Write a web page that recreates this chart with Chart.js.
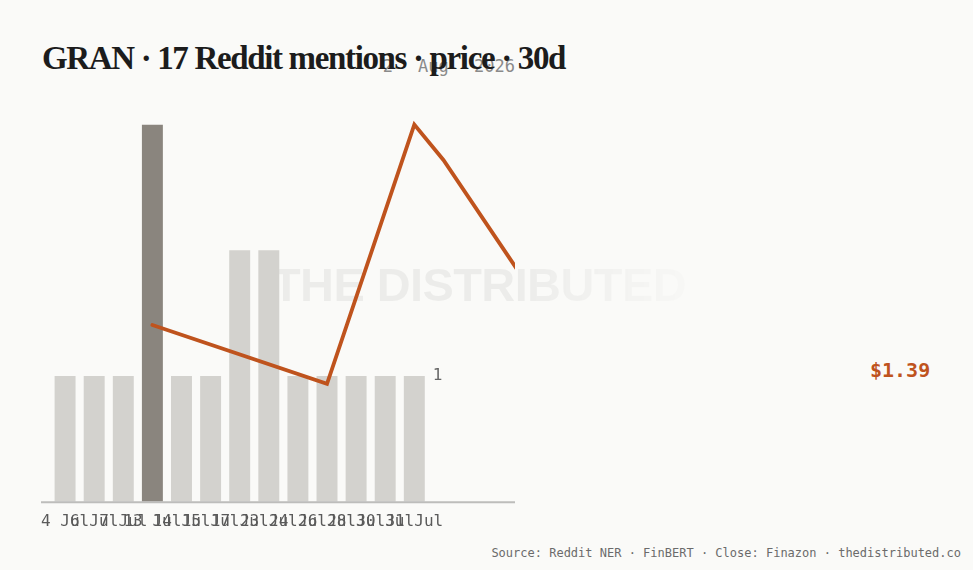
<!DOCTYPE html>
<html>
<head>
<meta charset="utf-8">
<script src="https://cdn.jsdelivr.net/npm/chart.js@4.4.1/dist/chart.umd.min.js"></script>
<style>
  html, body { margin: 0; padding: 0; background: #fafaf8; }
  body { width: 973px; height: 570px; position: relative; overflow: hidden; }
  #title {
    position: absolute; left: 42px; top: 42px; z-index: 3;
    font: bold 33px/33px "Liberation Serif", serif; letter-spacing: -1.35px;
    color: #1c1c1c; white-space: nowrap;
  }
  #date {
    position: absolute; right: 458px; top: 56px; z-index: 2;
    font: 17px/20px "DejaVu Sans Mono", monospace; word-spacing: 15px;
    color: #8a8a8a; white-space: nowrap;
  }
  #mark {
    position: absolute; left: 272px; top: 261px; z-index: 0;
    font: bold 47px/47px "Liberation Sans", sans-serif; letter-spacing: -0.6px;
    color: rgba(0, 0, 0, 0.055); white-space: nowrap;
    -webkit-mask-image: linear-gradient(to right, #000 58%, rgba(0,0,0,0.2) 100%);
    mask-image: linear-gradient(to right, #000 58%, rgba(0,0,0,0.2) 100%);
  }
  #wrap { position: absolute; left: 41px; top: 111px; width: 474px; height: 420px; z-index: 1; }
  #last {
    position: absolute; left: 870px; top: 360px;
    font: bold 20px/20px "DejaVu Sans Mono", monospace; color: #bf531d;
  }
  #foot {
    position: absolute; right: 12px; top: 546px;
    font: 12px/14px "DejaVu Sans Mono", monospace; color: #6b6b6b; white-space: nowrap;
  }
</style>
</head>
<body>
<div id="title">GRAN · 17 Reddit mentions · price · 30d</div>
<div id="date">2 Aug 2026</div>
<div id="mark">THE DISTRIBUTED</div>
<div id="wrap"><canvas id="chart"></canvas></div>
<div id="last"></div>
<div id="foot">Source: Reddit NER · FinBERT · Close: Finazon · thedistributed.co</div>

<script>
// mentions per day (bars)
const mentionDays = ['4 Jul', '6 Jul', '7 Jul', '13 Jul', '14 Jul', '15 Jul', '17 Jul',
                     '23 Jul', '24 Jul', '26 Jul', '28 Jul', '30 Jul', '31 Jul'];
const mentionCounts = [1, 1, 1, 3, 1, 1, 2, 2, 1, 1, 1, 1, 1];
const mentionTicks = [1];

// closes, placed on the same day slots as the bars
const priceSlots = [3, 9, 12, 13, 16, 20];
const priceCloses = [1.45, 1.40, 1.62, 1.59, 1.48, 1.39];
const priceRange = [1.30, 1.62];

const barColor = '#d3d2ce';
const barPeak = '#8a857e';
const lineColor = '#bf531d';

const peak = mentionCounts.indexOf(Math.max(...mentionCounts));
const barColors = mentionCounts.map((v, i) => i === peak ? barPeak : barColor);

const priceData = priceSlots.map((s, i) => ({x: s, y: priceCloses[i]}));

document.getElementById('last').textContent = '$' + priceCloses[priceCloses.length - 1].toFixed(2);

// baseline across the whole canvas
const baseline = {
  id: 'baseline',
  afterDatasetsDraw(chart) {
    const ctx = chart.ctx;
    const y = chart.chartArea.bottom + 0.5;
    ctx.save();
    ctx.strokeStyle = '#bdbdbb';
    ctx.lineWidth = 2;
    ctx.beginPath();
    ctx.moveTo(0, y);
    ctx.lineTo(chart.width, y);
    ctx.stroke();
    ctx.restore();
  }
};

Chart.defaults.font.family = '"DejaVu Sans Mono", monospace';

new Chart(document.getElementById('chart'), {
  type: 'bar',
  data: {
    labels: mentionDays,
    datasets: [{
      type: 'line',
      data: priceData,
      xAxisID: 'x2',
      yAxisID: 'y1',
      borderColor: lineColor,
      borderWidth: 3.8,
      borderCapStyle: 'round',
      pointRadius: 0,
      tension: 0,
      clip: false
    }, {
      data: mentionCounts,
      backgroundColor: barColors,
      grouped: false,
      xAxisID: 'x',
      yAxisID: 'y'
    }]
  },
  options: {
    responsive: true,
    maintainAspectRatio: false,
    animation: false,
    events: [],
    layout: { padding: { top: 8, right: 68.5 } },
    plugins: { legend: { display: false }, tooltip: { enabled: false } },
    scales: {
      x: {
        grid: { drawOnChartArea: false, color: 'transparent', tickLength: 10 },
        border: { display: false },
        ticks: {
          autoSkip: false, maxRotation: 0, padding: 0,
          color: '#5a5a5a', font: { size: 16 }
        }
      },
      x2: {
        type: 'linear', display: false, offset: false, bounds: 'data',
        afterDataLimits: (axis) => { axis.min = -0.5; axis.max = mentionDays.length - 0.5; }
      },
      y: {
        position: 'right',
        min: 0, max: Math.max(...mentionCounts),
        grid: { display: false, drawTicks: false },
        border: { display: false },
        afterBuildTicks: (axis) => { axis.ticks = mentionTicks.map(v => ({value: v})); },
        ticks: { color: '#666', font: { size: 16 }, padding: 4 }
      },
      y1: {
        display: false,
        min: priceRange[0], max: priceRange[1]
      }
    }
  },
  plugins: [baseline]
});
</script>
</body>
</html>
